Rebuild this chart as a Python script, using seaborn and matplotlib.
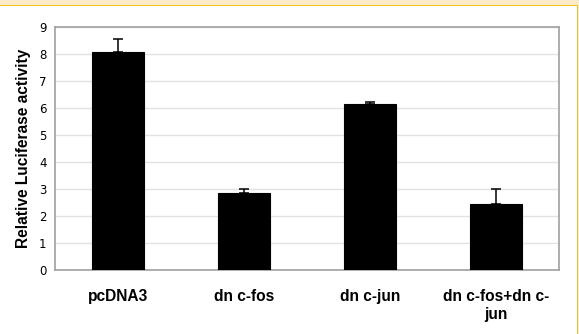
import matplotlib
matplotlib.use("Agg")
import matplotlib.pyplot as plt
import seaborn as sns
import pandas as pd
from matplotlib.patches import Rectangle

categories = ["pcDNA3", "dn c-fos", "dn c-jun", "dn c-fos+dn c-\njun"]
values = [8.06, 2.85, 6.15, 2.44]
errors = [0.50, 0.14, 0.06, 0.57]
y_ticks = [0, 1, 2, 3, 4, 5, 6, 7, 8, 9]
y_label = "Relative Luciferase activity"

sns.set_style("white")
plt.rcParams["font.family"] = ["DejaVu Sans"]
plt.rcParams["text.color"] = "black"
plt.rcParams["axes.labelcolor"] = "black"
plt.rcParams["xtick.color"] = "black"
plt.rcParams["ytick.color"] = "black"

df = pd.DataFrame({"group": categories, "value": values})

fig = plt.figure(figsize=(5.79, 3.34), dpi=100)
ax = fig.add_axes([55 / 579, 1 - 270 / 334, (559 - 55) / 579, (270 - 27) / 334])

sns.barplot(data=df, x="group", y="value", color="black", width=0.41,
            errorbar=None, edgecolor="black", linewidth=0.8, saturation=1,
            ax=ax, zorder=3)

xpos = list(range(len(categories)))
ax.errorbar(xpos, values, yerr=[[0] * len(errors), errors], fmt="none",
            ecolor="black", elinewidth=1.1, capsize=3.6, capthick=1.1, zorder=2.5)

ax.set_xlim(-0.5, len(categories) - 0.5)
ax.set_ylim(0, 9)
ax.set_yticks(y_ticks)
ax.set_yticklabels([str(t) for t in y_ticks], fontsize=8.5, family="DejaVu Sans")
ax.yaxis.grid(True, color="#e2e2e2", linewidth=1.0, zorder=0)
ax.set_axisbelow(True)

ax.set_xticks(xpos)
ax.set_xticklabels(categories, fontsize=11.2, fontweight="bold",
                   family="Liberation Sans", linespacing=1.2)
ax.set_xticks([i - 0.5 for i in range(len(categories) + 1)], minor=True)
ax.tick_params(axis="x", which="major", length=0, pad=14)
ax.tick_params(axis="x", which="minor", length=3, color="#a0a0a0", width=1)
ax.tick_params(axis="y", length=3, color="#a0a0a0", width=1, pad=3)

ax.set_xlabel("")
ax.set_ylabel(y_label, fontsize=11.2, fontweight="bold", family="Liberation Sans",
              labelpad=6)

for s in ax.spines.values():
    s.set_visible(True)
    s.set_color("#a0a0a0")
    s.set_linewidth(1.2)

# outer decorative frame
light = "#fbebcb"
yellow = "#f5be14"
fig.patches.append(Rectangle((0, 1 - 4.7 / 334), 1, 4.7 / 334, transform=fig.transFigure,
                             facecolor=light, edgecolor="none", zorder=0))
fig.patches.append(Rectangle((0, 1 - 6.2 / 334), 578 / 579, 1.5 / 334, transform=fig.transFigure,
                             facecolor=yellow, edgecolor="none", zorder=1))
fig.patches.append(Rectangle((576.5 / 579, 0), 1.5 / 579, 1 - 4.7 / 334, transform=fig.transFigure,
                             facecolor=yellow, edgecolor="none", zorder=1))
fig.patches.append(Rectangle((578 / 579, 0), 1 / 579, 1, transform=fig.transFigure,
                             facecolor=light, edgecolor="none", zorder=0))

fig.savefig("out.png", dpi=100)
